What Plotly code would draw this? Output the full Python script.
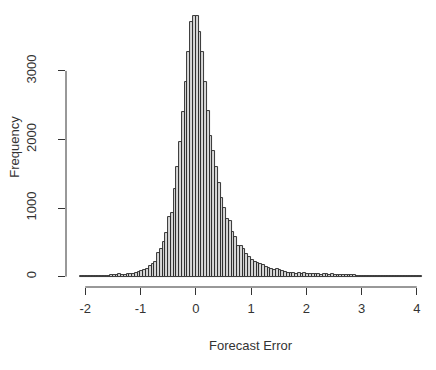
import numpy as np
import plotly.graph_objects as go

# Histogram of forecast errors: bins of width 0.05 starting at -2.1
bin_start = -2.1
bin_width = 0.05
frequency = [
    4, 6, 5, 8, 6, 8, 12, 10, 12, 15, 15, 22, 22, 29, 36, 29, 29, 36, 36, 44,
    51, 63, 87, 92, 112, 150,
    189, 218, 349, 408, 509, 640, 873, 932, 1281, 1601, 1965, 2400, 2838, 3275,
    3712, 3800,
    3800, 3566, 3275, 2838, 2410, 2050, 1830, 1601, 1368, 1150, 1004, 844, 815,
    655, 575, 440, 450, 408, 335, 291, 247, 218, 204, 189, 175, 146, 131, 112,
    102, 112, 92,
    83, 63, 54, 54, 54, 44, 54, 44, 50, 39, 34, 39, 36, 39, 29, 36, 32, 29, 32,
    26, 24, 26, 22, 20, 22, 18, 16, 15, 10, 8, 6, 7, 5, 6, 4, 5, 3, 4, 3, 5, 2,
    3, 4, 2, 3, 2, 4, 2, 3, 2, 3,
]
x_ticks = [-2, -1, 0, 1, 2, 3, 4]
y_ticks = [0, 1000, 2000, 3000]

n = len(frequency)
left_edges = bin_start + bin_width * np.arange(n)
centers = left_edges + bin_width / 2

x_lo, x_hi = bin_start, bin_start + bin_width * n
x_pad = 0.04 * (x_hi - x_lo)
y_max = max(frequency)
y_pad = 0.04 * y_max

font = dict(family="Liberation Sans, Arial, sans-serif", size=13, color="#333333")

fig = go.Figure(go.Bar(
    x=centers, y=frequency, width=bin_width,
    marker=dict(color="#d8d8d8", line=dict(color="#222222", width=0.9)),
))

fig.update_layout(
    width=436, height=370,
    margin=dict(l=58, r=8, t=0, b=91),
    paper_bgcolor="white", plot_bgcolor="white",
    showlegend=False, bargap=0, font=font,
    xaxis=dict(range=[x_lo - x_pad, x_hi + x_pad], tickvals=x_ticks,
               ticktext=[str(v) for v in x_ticks],
               ticks="outside", ticklen=7, tickcolor="#333333", tickwidth=1,
               showgrid=False, zeroline=False, showline=False,
               ticklabelstandoff=2, tickfont=font),
    yaxis=dict(range=[-y_pad, 3917], tickvals=y_ticks,
               ticktext=[str(v) for v in y_ticks],
               ticks="outside", ticklen=7, tickcolor="#333333", tickwidth=1,
               showgrid=False, zeroline=False, showline=False,
               tickangle=-90, ticklabelstandoff=17, tickfont=font),
)

# R-style axis lines spanning first to last tick
fig.add_shape(type="line", xref="x", yref="paper",
              x0=x_ticks[0], x1=x_ticks[-1], y0=0, y1=0,
              line=dict(color="#333333", width=1))
fig.add_shape(type="line", xref="paper", yref="y",
              x0=0, x1=0, y0=y_ticks[0], y1=y_ticks[-1],
              line=dict(color="#333333", width=1))

fig.add_annotation(text="Forecast Error", xref="x", yref="paper",
                   x=(x_lo + x_hi) / 2, y=0, yanchor="middle", yshift=-58,
                   showarrow=False, font=font)
fig.add_annotation(text="Frequency", xref="paper", yref="y",
                   x=0, xanchor="center", xshift=-51, y=1893,
                   textangle=-90, showarrow=False, font=font)

fig.write_html("out.html")
